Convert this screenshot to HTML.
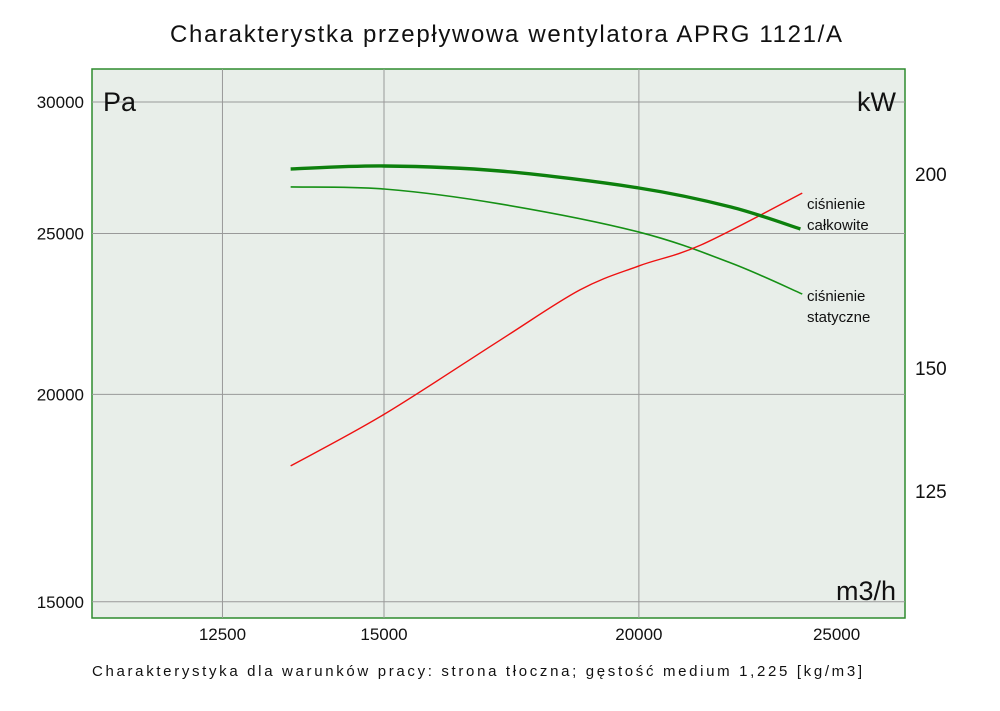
<!DOCTYPE html>
<html><head><meta charset="utf-8">
<style>
html,body{margin:0;padding:0;background:#fff;}
body{width:1000px;height:706px;overflow:hidden;font-family:"Liberation Sans",sans-serif;}
svg text{font-family:"Liberation Sans",sans-serif;}
</style></head>
<body>
<svg id="chart" width="1000" height="706" viewBox="0 0 1000 706" xmlns="http://www.w3.org/2000/svg">
<text x="170" y="42" font-size="24" fill="#111" textLength="672" lengthAdjust="spacing">Charakterystka przepływowa wentylatora APRG 1121/A</text>
<rect x="92" y="69" width="813" height="549" fill="#e8eee9" stroke="#2e8b2e" stroke-width="1.5"/>
<g id="grid"></g>
<g id="curves"></g>
<g id="labels"></g>
<text x="103" y="111" font-size="27" fill="#111">Pa</text>
<text x="896" y="111" font-size="27" fill="#111" text-anchor="end">kW</text>
<text x="896" y="600" font-size="27" fill="#111" text-anchor="end">m3/h</text>
<text x="807" y="209" font-size="15" fill="#111">ciśnienie</text>
<text x="807" y="230" font-size="15" fill="#111">całkowite</text>
<text x="807" y="301" font-size="15" fill="#111">ciśnienie</text>
<text x="807" y="322" font-size="15" fill="#111">statyczne</text>
<text x="92" y="676" font-size="15" fill="#111" textLength="770" lengthAdjust="spacing">Charakterystyka dla warunków pracy: strona tłoczna; gęstość medium 1,225 [kg/m3]</text>
</svg>
<script>
const xTicks=[12500,15000,20000,25000];
const yTicks=[15000,20000,25000,30000];
const y2Ticks=[125,150,200];
const flow=[13500,15000,17100,20000,22190,24000];
const totalPressure=[27338,27452,27262,26627,25934,25155];
const staticFlow=[13500,15000,17100,20000,22190,24050];
const staticPressure=[26665,26590,26044,25048,23995,22985];
const powerFlow=[13500,15000,17100,18713,20000,21450,24050];
const power=[129.7,140.0,156.3,168.4,174.5,180.0,194.4];

const NS="http://www.w3.org/2000/svg";
const X=v=>384+886*Math.log(v/15000);
const Y=v=>102+721*Math.log(30000/v);
const Y2=v=>174+674*Math.log(200/v);
function mk(t,a,p){const e=document.createElementNS(NS,t);for(const k in a)e.setAttribute(k,a[k]);p.appendChild(e);return e;}
const grid=document.getElementById('grid'),labels=document.getElementById('labels'),curves=document.getElementById('curves');
xTicks.forEach(v=>{
  if(v<25000){const l=mk('line',{x1:X(v),x2:X(v),y1:69,y2:618,stroke:'#999','stroke-width':1},grid);
  
  }
  const t=mk('text',{x:X(v),y:640,'text-anchor':'middle','font-size':17,fill:'#111'},labels);t.textContent=v;
  
  
});
yTicks.forEach(v=>{
  const l=mk('line',{x1:92,x2:905,y1:Y(v),y2:Y(v),stroke:'#999','stroke-width':1},grid);
  
  
  const t=mk('text',{x:84,y:Y(v)+6,'text-anchor':'end','font-size':17,fill:'#111'},labels);t.textContent=v;
  
  
});
y2Ticks.forEach(v=>{
  const t=mk('text',{x:915,y:Y2(v)+7,'font-size':19,fill:'#111'},labels);t.textContent=v;
  
  
});
function path(pts){
  let d='M'+pts[0][0]+','+pts[0][1];
  for(let i=0;i<pts.length-1;i++){
    const p0=pts[i-1]||pts[i],p1=pts[i],p2=pts[i+1],p3=pts[i+2]||p2;
    d+=' C'+(p1[0]+(p2[0]-p0[0])/6)+','+(p1[1]+(p2[1]-p0[1])/6)+' '+(p2[0]-(p3[0]-p1[0])/6)+','+(p2[1]-(p3[1]-p1[1])/6)+' '+p2[0]+','+p2[1];
  }
  return d;
}
const s1=mk('path',{d:path(staticFlow.map((f,i)=>[X(f),Y(staticPressure[i])])),fill:'none',stroke:'#159015','stroke-width':1.6},curves);


const s2=mk('path',{d:path(powerFlow.map((f,i)=>[X(f),Y2(power[i])])),fill:'none',stroke:'#ee1111','stroke-width':1.4},curves);


const s3=mk('path',{d:path(flow.map((f,i)=>[X(f),Y(totalPressure[i])])),fill:'none',stroke:'#0d800d','stroke-width':3.4},curves);


</script>
</body></html>
